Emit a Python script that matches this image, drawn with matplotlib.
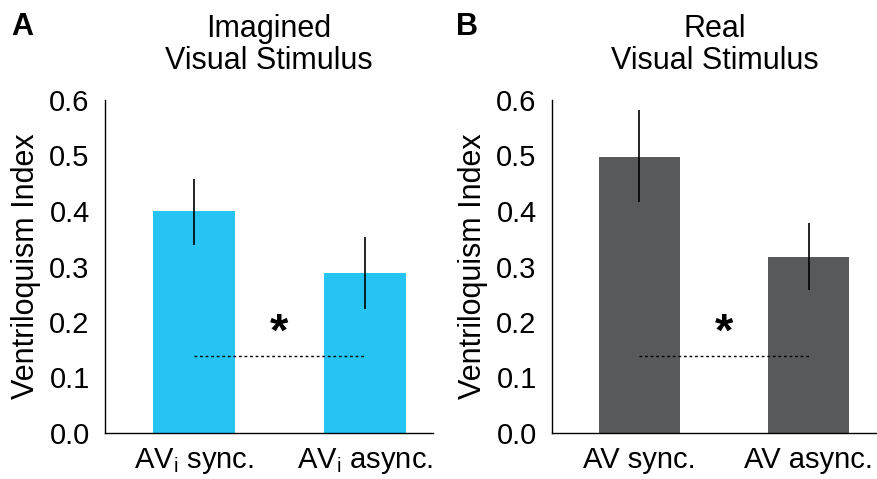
import matplotlib
matplotlib.use("Agg")
import matplotlib.pyplot as plt

plt.rcParams['font.family'] = ['Liberation Sans', 'DejaVu Sans']
plt.rcParams['mathtext.fontset'] = 'custom'
plt.rcParams['mathtext.rm'] = 'Liberation Sans'
plt.rcParams['mathtext.it'] = 'Liberation Sans'

# Data
labels_a = [r"AV$_{\mathrm{i}}$ sync.", r"AV$_{\mathrm{i}}$ async."]
values_a = [0.400, 0.288]
err_lo_a = [0.339, 0.224]
err_hi_a = [0.458, 0.353]
labels_b = ["AV sync.", "AV async."]
values_b = [0.497, 0.317]
err_lo_b = [0.416, 0.258]
err_hi_b = [0.582, 0.378]
chance_level = 0.139
yticks = [0.0, 0.1, 0.2, 0.3, 0.4, 0.5, 0.6]
ytick_labels = ["0.0", "0.1", "0.2", "0.3", "0.4", "0.5", "0.6"]

titles = ["Imagined\nVisual Stimulus", "Real\nVisual Stimulus"]
panel_letters = ["A", "B"]
colors = ["#25C4F3", "#58595B"]

fig = plt.figure(figsize=(8.78, 4.79), dpi=100)
ax_a = fig.add_axes([105/878, 46/479, 328/878, 333/479])
ax_b = fig.add_axes([552/878, 46/479, 326/878, 333/479])

panels = [
    (ax_a, labels_a, values_a, err_lo_a, err_hi_a, (-0.52, 1.40)),
    (ax_b, labels_b, values_b, err_lo_b, err_hi_b, (-0.515, 1.41)),
]

for i, (ax, labels, vals, lo, hi, xlim) in enumerate(panels):
    x = [0, 1]
    ax.bar(x, vals, width=0.48, color=colors[i], zorder=1)
    ax.vlines(x, lo, hi, color='black', linewidth=1.2, zorder=2)
    ax.plot([0, 1], [chance_level, chance_level], color='black',
            linewidth=1.0, linestyle=(0, (2, 2)), zorder=3)
    ax.text(0.5, 0.178, "*", ha='center', va='center', fontsize=34,
            fontweight='bold')
    ax.set_xlim(*xlim)
    ax.set_ylim(0, 0.6)
    ax.set_xticks(x)
    ax.set_xticklabels(labels, fontsize=21)
    ax.set_yticks(yticks)
    ax.set_yticklabels(ytick_labels, fontsize=21)
    ax.tick_params(axis='both', length=0)
    ax.tick_params(axis='y', pad=11)
    ax.tick_params(axis='x', pad=9)
    ax.spines['top'].set_visible(False)
    ax.spines['right'].set_visible(False)
    ax.spines['left'].set_linewidth(1.0)
    ax.spines['bottom'].set_linewidth(1.0)
    ax.set_ylabel("Ventriloquism Index", fontsize=22, labelpad=6)
    ax.set_title(titles[i], fontsize=22, pad=22, linespacing=1.1)

fig.text(11/878, 1 - 27/479, panel_letters[0], fontsize=22, fontweight='bold',
         va='center', ha='left')
fig.text(456/878, 1 - 27/479, panel_letters[1], fontsize=22, fontweight='bold',
         va='center', ha='left')

fig.savefig("out.png", dpi=100)
